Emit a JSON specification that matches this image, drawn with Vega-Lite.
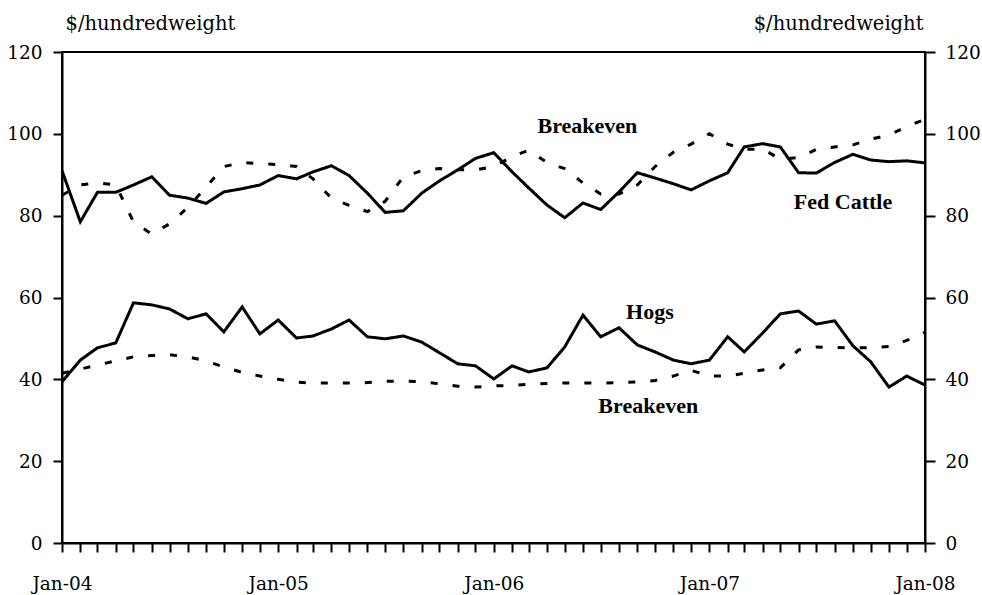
{
  "$schema": "https://vega.github.io/schema/vega-lite/v6.json",
  "width": 863,
  "height": 491,
  "autosize": {"type": "none"},
  "padding": {"left": 62, "top": 52, "right": 57, "bottom": 52},
  "background": "white",
  "config": {
    "view": {"stroke": "black", "strokeWidth": 2},
    "font": "DejaVu Serif",
    "axis": {
      "domainColor": "black", "domainWidth": 2, "tickColor": "black", "tickWidth": 2,
      "labelColor": "black", "labelFont": "DejaVu Serif", "labelFontSize": 18.5,
      "grid": false, "titleFont": "DejaVu Serif", "titleFontWeight": "normal",
      "titleFontSize": 19.5, "titleColor": "black"
    }
  },
  "datasets": {
    "prices": [
      {"date": "2004-01-01", "cattle": 91, "cattleBE": 85, "hogs": 39.4, "hogsBE": 41.5},
      {"date": "2004-02-01", "cattle": 78.5, "cattleBE": 87.5, "hogs": 44.7, "hogsBE": 42.5},
      {"date": "2004-03-01", "cattle": 85.7, "cattleBE": 88, "hogs": 47.7, "hogsBE": 43.5},
      {"date": "2004-04-01", "cattle": 85.7, "cattleBE": 87.5, "hogs": 48.9, "hogsBE": 44.5},
      {"date": "2004-05-01", "cattle": 87.5, "cattleBE": 78.5, "hogs": 58.7, "hogsBE": 45.5},
      {"date": "2004-06-01", "cattle": 89.5, "cattleBE": 75.5, "hogs": 58.2, "hogsBE": 45.8},
      {"date": "2004-07-01", "cattle": 85, "cattleBE": 78, "hogs": 57.2, "hogsBE": 46},
      {"date": "2004-08-01", "cattle": 84.3, "cattleBE": 82, "hogs": 54.8, "hogsBE": 45.5},
      {"date": "2004-09-01", "cattle": 83, "cattleBE": 87, "hogs": 56, "hogsBE": 44.5},
      {"date": "2004-10-01", "cattle": 85.8, "cattleBE": 92, "hogs": 51.6, "hogsBE": 43},
      {"date": "2004-11-01", "cattle": 86.6, "cattleBE": 93, "hogs": 57.7, "hogsBE": 41.7},
      {"date": "2004-12-01", "cattle": 87.5, "cattleBE": 92.7, "hogs": 51.1, "hogsBE": 40.8},
      {"date": "2005-01-01", "cattle": 89.8, "cattleBE": 92.5, "hogs": 54.5, "hogsBE": 40},
      {"date": "2005-02-01", "cattle": 89, "cattleBE": 92, "hogs": 50.1, "hogsBE": 39.3},
      {"date": "2005-03-01", "cattle": 90.7, "cattleBE": 89, "hogs": 50.6, "hogsBE": 39.1},
      {"date": "2005-04-01", "cattle": 92.2, "cattleBE": 84.3, "hogs": 52.3, "hogsBE": 39.1},
      {"date": "2005-05-01", "cattle": 89.8, "cattleBE": 82.5, "hogs": 54.5, "hogsBE": 39.1},
      {"date": "2005-06-01", "cattle": 85.5, "cattleBE": 81, "hogs": 50.4, "hogsBE": 39.2},
      {"date": "2005-07-01", "cattle": 80.8, "cattleBE": 83.5, "hogs": 49.9, "hogsBE": 39.5},
      {"date": "2005-08-01", "cattle": 81.2, "cattleBE": 89.5, "hogs": 50.6, "hogsBE": 39.6},
      {"date": "2005-09-01", "cattle": 85.5, "cattleBE": 91, "hogs": 49.1, "hogsBE": 39.4},
      {"date": "2005-10-01", "cattle": 88.5, "cattleBE": 91.5, "hogs": 46.5, "hogsBE": 38.9},
      {"date": "2005-11-01", "cattle": 91.2, "cattleBE": 91.2, "hogs": 43.8, "hogsBE": 38.3},
      {"date": "2005-12-01", "cattle": 94, "cattleBE": 91.2, "hogs": 43.3, "hogsBE": 38.1},
      {"date": "2006-01-01", "cattle": 95.4, "cattleBE": 92, "hogs": 40.1, "hogsBE": 38.4},
      {"date": "2006-02-01", "cattle": 90.7, "cattleBE": 94.4, "hogs": 43.3, "hogsBE": 38.5},
      {"date": "2006-03-01", "cattle": 86.8, "cattleBE": 96, "hogs": 41.8, "hogsBE": 38.8},
      {"date": "2006-04-01", "cattle": 82.6, "cattleBE": 93, "hogs": 42.8, "hogsBE": 39},
      {"date": "2006-05-01", "cattle": 79.5, "cattleBE": 91.5, "hogs": 47.9, "hogsBE": 39.1},
      {"date": "2006-06-01", "cattle": 83.1, "cattleBE": 88, "hogs": 55.7, "hogsBE": 39.1},
      {"date": "2006-07-01", "cattle": 81.5, "cattleBE": 85.3, "hogs": 50.4, "hogsBE": 39.1},
      {"date": "2006-08-01", "cattle": 85.8, "cattleBE": 85.3, "hogs": 52.6, "hogsBE": 39.2},
      {"date": "2006-09-01", "cattle": 90.5, "cattleBE": 87.5, "hogs": 48.4, "hogsBE": 39.4},
      {"date": "2006-10-01", "cattle": 89.2, "cattleBE": 92, "hogs": 46.7, "hogsBE": 39.7},
      {"date": "2006-11-01", "cattle": 87.8, "cattleBE": 95.5, "hogs": 44.7, "hogsBE": 40.8},
      {"date": "2006-12-01", "cattle": 86.3, "cattleBE": 97.5, "hogs": 43.8, "hogsBE": 42.2},
      {"date": "2007-01-01", "cattle": 88.5, "cattleBE": 100, "hogs": 44.7, "hogsBE": 40.8},
      {"date": "2007-02-01", "cattle": 90.5, "cattleBE": 97.5, "hogs": 50.4, "hogsBE": 40.8},
      {"date": "2007-03-01", "cattle": 96.8, "cattleBE": 96.2, "hogs": 46.7, "hogsBE": 41.5},
      {"date": "2007-04-01", "cattle": 97.6, "cattleBE": 96.3, "hogs": 51.3, "hogsBE": 42.3},
      {"date": "2007-05-01", "cattle": 96.8, "cattleBE": 93.8, "hogs": 56, "hogsBE": 42.8},
      {"date": "2007-06-01", "cattle": 90.5, "cattleBE": 94.2, "hogs": 56.7, "hogsBE": 47.2},
      {"date": "2007-07-01", "cattle": 90.4, "cattleBE": 96.2, "hogs": 53.5, "hogsBE": 47.9},
      {"date": "2007-08-01", "cattle": 93, "cattleBE": 96.8, "hogs": 54.3, "hogsBE": 47.8},
      {"date": "2007-09-01", "cattle": 95, "cattleBE": 97.3, "hogs": 48.2, "hogsBE": 47.7},
      {"date": "2007-10-01", "cattle": 93.6, "cattleBE": 98.7, "hogs": 44.3, "hogsBE": 47.7},
      {"date": "2007-11-01", "cattle": 93.2, "cattleBE": 99.7, "hogs": 38.1, "hogsBE": 48},
      {"date": "2007-12-01", "cattle": 93.4, "cattleBE": 101.8, "hogs": 40.8, "hogsBE": 49.5},
      {"date": "2008-01-01", "cattle": 92.9, "cattleBE": 103.5, "hogs": 38.6, "hogsBE": 51.5}
    ],
    "labels": [
      {"date": "2006-03-16", "value": 100.2, "label": "Breakeven"},
      {"date": "2007-05-24", "value": 81.7, "label": "Fed Cattle"},
      {"date": "2006-08-13", "value": 54.8, "label": "Hogs"},
      {"date": "2006-06-27", "value": 31.8, "label": "Breakeven"}
    ]
  },
  "layer": [
    {
      "data": {"name": "prices"},
      "transform": [{"fold": ["cattle", "cattleBE", "hogs", "hogsBE"], "as": ["series", "value"]}],
      "mark": {"type": "line", "color": "black", "strokeWidth": 3, "strokeCap": "butt"},
      "encoding": {
        "x": {
          "field": "date", "type": "temporal",
          "scale": {"type": "utc", "domain": [{"year": 2004, "month": 1, "date": 1, "utc": true}, {"year": 2008, "month": 1, "date": 1, "utc": true}], "nice": false},
          "axis": {
            "title": null, "tickCount": {"interval": "month", "step": 1}, "tickSize": 9,
            "labelPadding": 22, "labelFlush": false, "labelOverlap": false,
            "labelExpr": "utcmonth(datum.value) == 0 ? utcFormat(datum.value, '%b-%y') : ''"
          }
        },
        "y": {
          "field": "value", "type": "quantitative",
          "scale": {"domain": [0, 120], "nice": false},
          "axis": {
            "orient": "left", "values": [0, 20, 40, 60, 80, 100, 120], "tickSize": 9, "labelPadding": 11,
            "title": "$/hundredweight", "titleAngle": 0, "titleAlign": "left", "titleBaseline": "alphabetic",
            "titleX": 3, "titleY": -23
          }
        },
        "strokeDash": {
          "field": "series", "type": "nominal",
          "scale": {"domain": ["cattle", "cattleBE", "hogs", "hogsBE"], "range": [[1, 0], [7, 15], [1, 0], [7, 15]]},
          "legend": null
        },
        "detail": {"field": "series"}
      }
    },
    {
      "data": {"name": "labels"},
      "mark": {"type": "text", "fontWeight": "bold", "fontSize": 22, "align": "left", "baseline": "alphabetic", "font": "Liberation Serif", "color": "black"},
      "encoding": {
        "x": {"field": "date", "type": "temporal"},
        "y": {
          "field": "value", "type": "quantitative",
          "scale": {"domain": [0, 120], "nice": false},
          "axis": {
            "orient": "right", "values": [0, 20, 40, 60, 80, 100, 120], "tickSize": 10, "labelPadding": 10,
            "title": "$/hundredweight", "titleAngle": 0, "titleAlign": "right", "titleBaseline": "alphabetic",
            "titleX": -2, "titleY": -23
          }
        },
        "text": {"field": "label"}
      }
    }
  ],
  "resolve": {"scale": {"y": "independent"}}
}
